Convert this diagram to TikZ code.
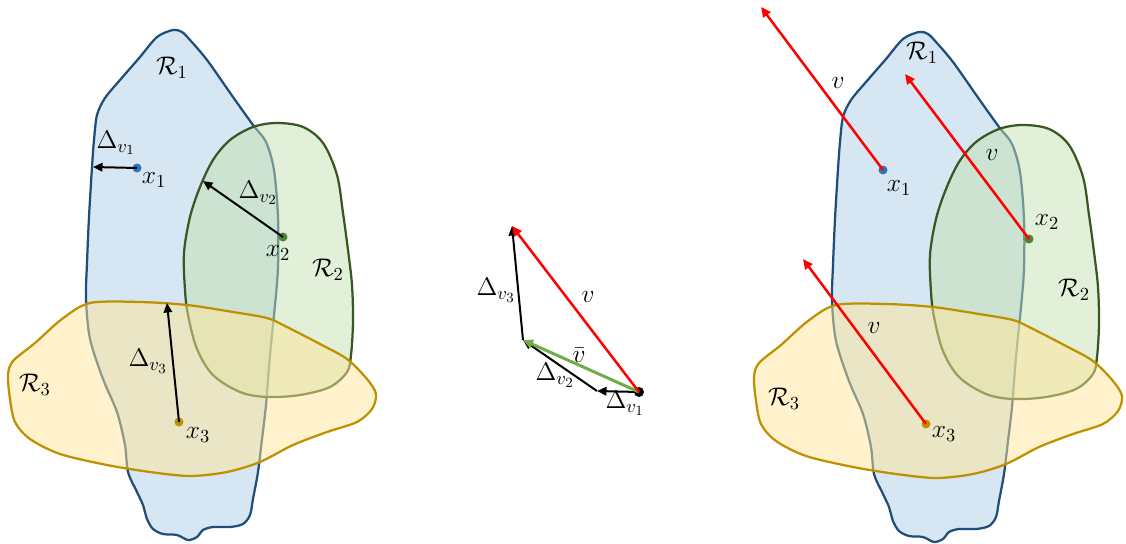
\RequirePackage{fix-cm}
\documentclass[tikz,border=0pt]{standalone}
\usetikzlibrary{arrows.meta}
\DeclareMathSizes{14.5}{14.5}{10.5}{8}
\definecolor{bluefill}{RGB}{214,230,243}
\definecolor{blueline}{RGB}{31,78,121}
\definecolor{greenfill}{RGB}{197,225,179}
\definecolor{greenline}{RGB}{56,87,35}
\definecolor{yellowfill}{RGB}{255,229,153}
\definecolor{yellowline}{RGB}{191,144,0}
\definecolor{dotblue}{RGB}{46,117,182}
\definecolor{dotgreen}{RGB}{84,130,53}
\definecolor{dotgold}{RGB}{191,144,0}
\definecolor{vred}{RGB}{255,0,0}
\definecolor{vbar}{RGB}{112,173,71}
\def\blueshape{plot[smooth cycle, tension=0.5] coordinates {(173,30) (157,37) (140,57) (120,80) (105,98) (97,115) (94,140) (92,167) (89,217) (87,263) (86,299) (90,339) (103,379) (117,412) (125,445) (128,472) (137,492) (143,505) (147,519) (153,529) (163,534) (177,535) (188,540) (197,537) (203,530) (213,527) (230,527) (243,524) (250,515) (253,499) (258,472) (262,439) (266,405) (270,355) (275,305) (278,267) (278,217) (274,170) (266,142) (253,125) (233,97) (207,60) (190,40) (182,32)}}
\def\greenshape{plot[smooth cycle, tension=0.55] coordinates {(277,123) (253,127) (230,140) (213,160) (200,187) (190,217) (184,253) (185,290) (188,315) (197,349) (213,375) (240,392) (267,397) (300,395) (330,387) (347,372) (351,355) (353,322) (352,285) (348,250) (343,213) (337,175) (323,143) (303,127)}}
\def\yellowshape{plot[smooth cycle, tension=0.5] coordinates {(90,303) (140,302) (187,305) (233,312) (267,318) (285,326) (320,344) (347,359) (367,379) (376,394) (372,409) (357,422) (327,432) (293,445) (260,462) (227,472) (190,476) (150,472) (107,465) (60,454) (30,439) (15,422) (10,399) (8,375) (13,361) (35,343) (62,319)}}
\tikzset{
  regA/.style={fill=bluefill, draw=blueline, line width=0.045cm},
  regB/.style={fill=greenfill, fill opacity=0.5, draw=greenline, draw opacity=1, line width=0.045cm},
  regC/.style={fill=yellowfill, fill opacity=0.5, draw=yellowline, draw opacity=1, line width=0.045cm},
  pt/.style={circle, inner sep=0pt, minimum size=0.18cm},
  lbl/.style={inner sep=1pt},
  blk/.style={draw=black, line width=0.04cm, -{Triangle[length=0.19cm, width=0.17cm]}},
  redv/.style={draw=vred, line width=0.05cm, -{Triangle[length=0.2cm, width=0.18cm]}},
  grnv/.style={draw=vbar, line width=0.06cm, -{Triangle[length=0.2cm, width=0.18cm]}}
}
\begin{document}
\begin{tikzpicture}[x=0.02cm, y=-0.02cm, font=\fontsize{14.5}{17}\selectfont]
\useasboundingbox (0,0) rectangle (1126,544);
% ---------- left panel ----------
\path[regA] \blueshape;
\path[regB] \greenshape;
\path[regC] \yellowshape;
\node[lbl] (R1a) at (172,68) {$\mathcal{R}_1$};
\node[lbl] (R2a) at (328,270) {$\mathcal{R}_2$};
\node[lbl] (R3a) at (35,385) {$\mathcal{R}_3$};
\node[pt, fill=dotblue] (x1a) at (137,168) {};
\node[pt, fill=dotgreen] (x2a) at (283,237) {};
\node[pt, fill=dotgold] (x3a) at (179,422) {};
\coordinate (d1) at (93,167);
\coordinate (d2) at (203,181);
\coordinate (d3) at (167,303);
\draw[blk] (x1a.center) -- (d1);
\draw[blk] (x2a.center) -- (d2);
\draw[blk] (x3a.center) -- (d3);
\node[lbl] (Ld1) at (116,143) {$\Delta_{v_1}$};
\node[lbl] (Ld2) at (258,193) {$\Delta_{v_2}$};
\node[lbl] (Ld3) at (148,361) {$\Delta_{v_3}$};
\node[lbl] (Lx1) at (154,180) {$x_1$};
\node[lbl] (Lx2) at (278,253) {$x_2$};
\node[lbl] (Lx3) at (198,435) {$x_3$};
% ---------- middle ----------
\node[pt, fill=black, minimum size=0.2cm] (o) at (639,392) {};
\coordinate (m1) at (597,391);
\coordinate (m2) at (523,340);
\coordinate (m3) at (512,226);
\draw[blk] (o.center) -- (m1);
\draw[blk] (m1) -- (m2);
\draw[blk] (m2) -- (m3);
\draw[grnv] (o.center) -- (m2);
\draw[redv] (o.center) -- (m3);
\node[lbl] (Mv3) at (496,290) {$\Delta_{v_3}$};
\node[lbl] (Mv) at (588,297) {$v$};
\node[lbl] (Mvb) at (579,355) {$\bar{v}$};
\node[lbl] (Mv2) at (555,375) {$\Delta_{v_2}$};
\node[lbl] (Mv1) at (625,403) {$\Delta_{v_1}$};
% ---------- right panel ----------
\begin{scope}[shift={(746,2)}]
\path[regA] \blueshape;
\path[regB] \greenshape;
\path[regC] \yellowshape;
\end{scope}
\node[lbl] (R1b) at (922,53) {$\mathcal{R}_1$};
\node[lbl] (R2b) at (1074,290) {$\mathcal{R}_2$};
\node[lbl] (R3b) at (784,399) {$\mathcal{R}_3$};
\node[pt, fill=dotblue] (x1b) at (883,170) {};
\node[pt, fill=dotgreen] (x2b) at (1029,239) {};
\node[pt, fill=dotgold] (x3b) at (926,424) {};
\coordinate (r1) at (761,7);
\coordinate (r2) at (905,74);
\coordinate (r3) at (803,259);
\draw[redv] (x1b.center) -- (r1);
\draw[redv] (x2b.center) -- (r2);
\draw[redv] (x3b.center) -- (r3);
\node[lbl] (Rv1) at (838,83) {$v$};
\node[lbl] (Rv2) at (992,155) {$v$};
\node[lbl] (Rv3) at (874,328) {$v$};
\node[lbl] (Rx1) at (899,188) {$x_1$};
\node[lbl] (Rx2) at (1047,222) {$x_2$};
\node[lbl] (Rx3) at (944,434) {$x_3$};
\end{tikzpicture}
\end{document}
